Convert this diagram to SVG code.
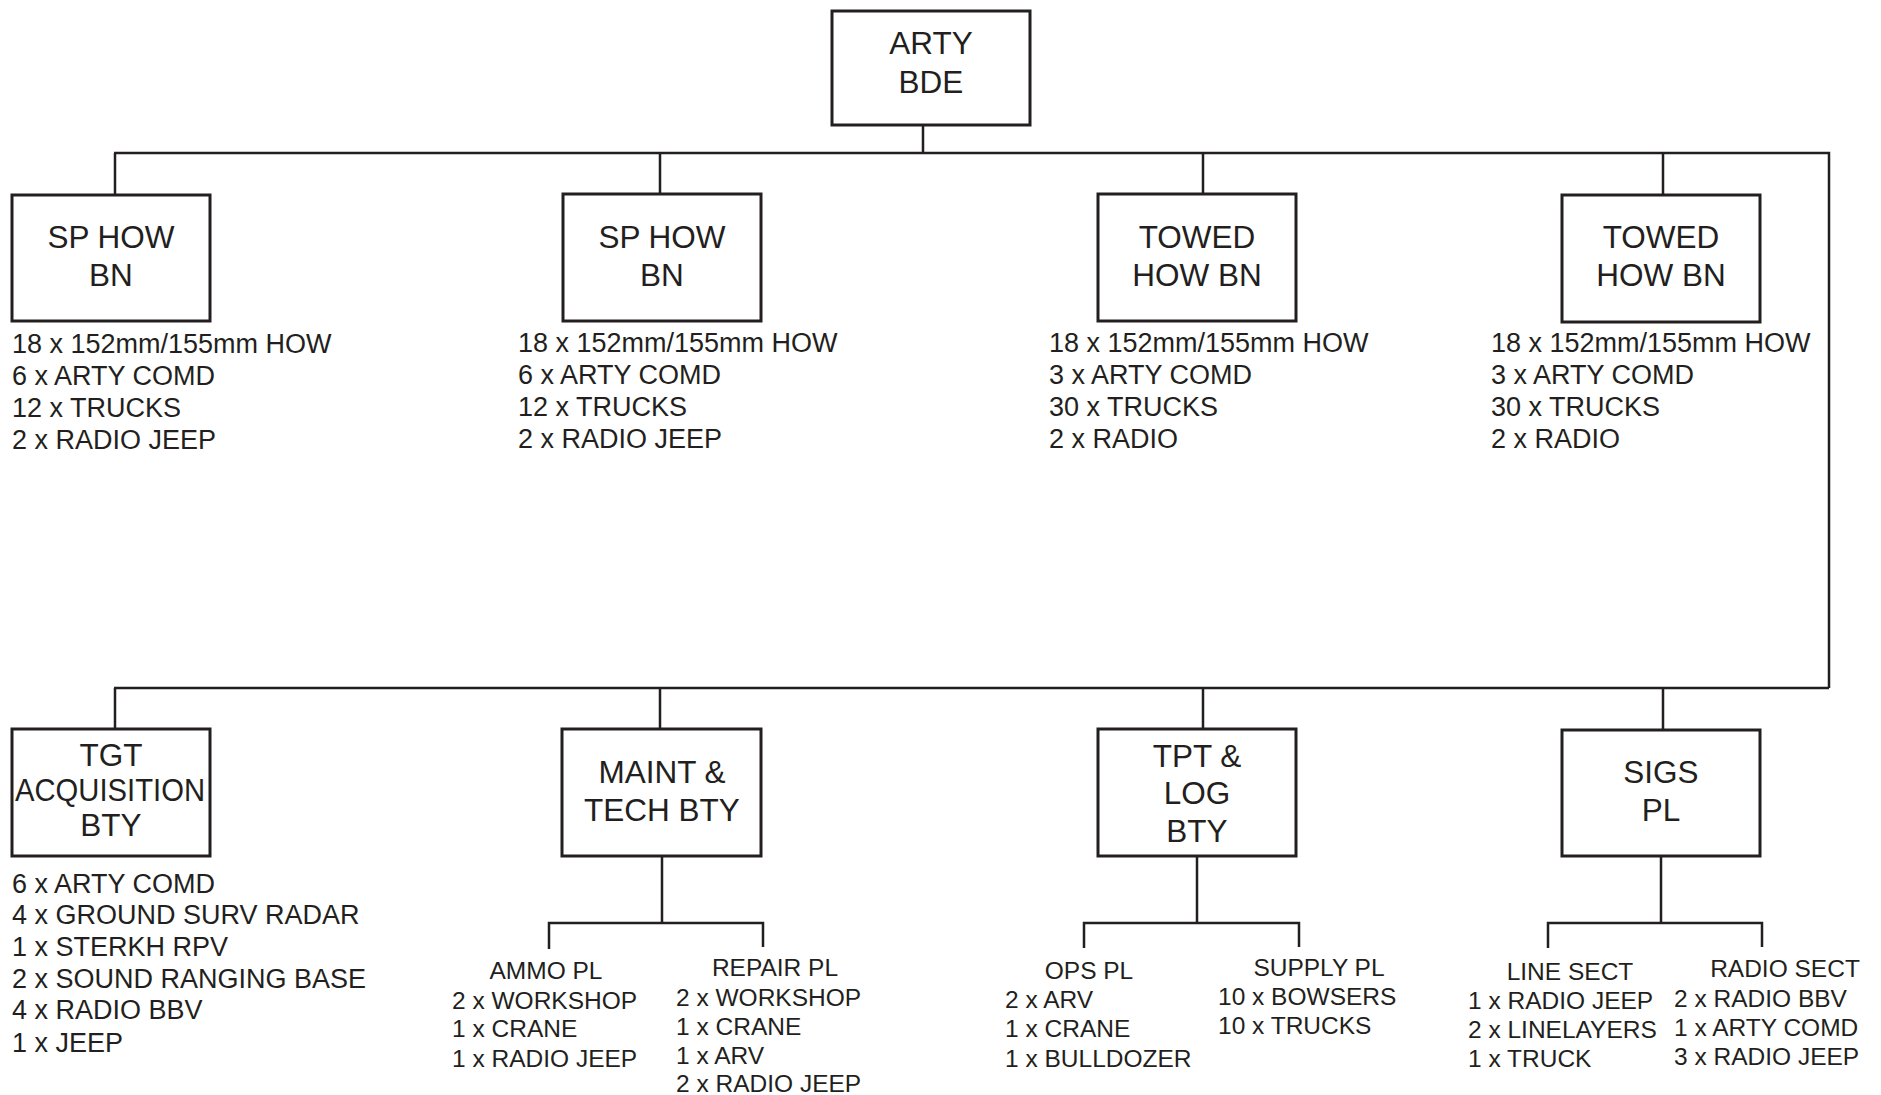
<svg xmlns="http://www.w3.org/2000/svg" width="1881" height="1095" viewBox="0 0 1881 1095">
<style>
.box{fill:#fff;stroke:#231f20;stroke-width:3}
.ln{fill:none;stroke:#231f20;stroke-width:2.5}
text{font-family:"Liberation Sans",Arial,sans-serif;fill:#231f20}
.bt{font-size:31.5px;text-anchor:middle}
.it{font-size:27px}
.sh{font-size:24.5px;text-anchor:middle}
.si{font-size:24.5px}
</style>
<rect width="1881" height="1095" fill="#fff"/>
<g id="connectors">
<path class="ln" d="M923 125V153M114 153H1829V688M114 688H1829M115 153V195M660 153V195M1203 153V195M1663 153V195M115 688V729M660 688V729M1203 688V729M1663 688V729"/>
<path class="ln" d="M662 856V923M549 949V923H763V947"/>
<path class="ln" d="M1197 856V923M1084 948V923H1299V947"/>
<path class="ln" d="M1661 856V923M1548 948V923H1762V947"/>
</g>
<g id="arty-bde">
<rect class="box" x="832" y="11" width="198" height="114"/>
<text class="bt" x="931" y="54">ARTY</text>
<text class="bt" x="931" y="93">BDE</text>
</g>
<g id="sp-how-bn-1">
<rect class="box" x="12" y="195" width="198" height="126"/>
<text class="bt" x="111" y="248">SP HOW</text>
<text class="bt" x="111" y="286">BN</text>
<text class="it" x="12" y="353">18 x 152mm/155mm HOW</text>
<text class="it" x="12" y="385">6 x ARTY COMD</text>
<text class="it" x="12" y="417">12 x TRUCKS</text>
<text class="it" x="12" y="449">2 x RADIO JEEP</text>
</g>
<g id="sp-how-bn-2">
<rect class="box" x="563" y="194" width="198" height="127"/>
<text class="bt" x="662" y="248">SP HOW</text>
<text class="bt" x="662" y="286">BN</text>
<text class="it" x="518" y="352">18 x 152mm/155mm HOW</text>
<text class="it" x="518" y="384">6 x ARTY COMD</text>
<text class="it" x="518" y="416">12 x TRUCKS</text>
<text class="it" x="518" y="448">2 x RADIO JEEP</text>
</g>
<g id="towed-how-bn-1">
<rect class="box" x="1098" y="194" width="198" height="127"/>
<text class="bt" x="1197" y="248">TOWED</text>
<text class="bt" x="1197" y="286">HOW BN</text>
<text class="it" x="1049" y="352">18 x 152mm/155mm HOW</text>
<text class="it" x="1049" y="384">3 x ARTY COMD</text>
<text class="it" x="1049" y="416">30 x TRUCKS</text>
<text class="it" x="1049" y="448">2 x RADIO</text>
</g>
<g id="towed-how-bn-2">
<rect class="box" x="1562" y="195" width="198" height="127"/>
<text class="bt" x="1661" y="248">TOWED</text>
<text class="bt" x="1661" y="286">HOW BN</text>
<text class="it" x="1491" y="352">18 x 152mm/155mm HOW</text>
<text class="it" x="1491" y="384">3 x ARTY COMD</text>
<text class="it" x="1491" y="416">30 x TRUCKS</text>
<text class="it" x="1491" y="448">2 x RADIO</text>
</g>
<g id="tgt-acq-bty">
<rect class="box" x="12" y="729" width="198" height="127"/>
<text class="bt" x="111" y="766">TGT</text>
<text class="bt" x="110" y="801" textLength="190" lengthAdjust="spacingAndGlyphs">ACQUISITION</text>
<text class="bt" x="111" y="836">BTY</text>
<text class="it" x="12" y="893">6 x ARTY COMD</text>
<text class="it" x="12" y="924">4 x GROUND SURV RADAR</text>
<text class="it" x="12" y="956">1 x STERKH RPV</text>
<text class="it" x="12" y="988">2 x SOUND RANGING BASE</text>
<text class="it" x="12" y="1019">4 x RADIO BBV</text>
<text class="it" x="12" y="1052">1 x JEEP</text>
</g>
<g id="maint-tech-bty">
<rect class="box" x="562" y="729" width="199" height="127"/>
<text class="bt" x="662" y="783">MAINT &amp;</text>
<text class="bt" x="662" y="821">TECH BTY</text>
</g>
<g id="ammo-pl">
<text class="sh" x="546" y="979">AMMO PL</text>
<text class="si" x="452" y="1009">2 x WORKSHOP</text>
<text class="si" x="452" y="1037">1 x CRANE</text>
<text class="si" x="452" y="1067">1 x RADIO JEEP</text>
</g>
<g id="repair-pl">
<text class="sh" x="775" y="976">REPAIR PL</text>
<text class="si" x="676" y="1006">2 x WORKSHOP</text>
<text class="si" x="676" y="1035">1 x CRANE</text>
<text class="si" x="676" y="1064">1 x ARV</text>
<text class="si" x="676" y="1092">2 x RADIO JEEP</text>
</g>
<g id="tpt-log-bty">
<rect class="box" x="1098" y="729" width="198" height="127"/>
<text class="bt" x="1197" y="767">TPT &amp;</text>
<text class="bt" x="1197" y="804">LOG</text>
<text class="bt" x="1197" y="842">BTY</text>
</g>
<g id="ops-pl">
<text class="sh" x="1089" y="979">OPS PL</text>
<text class="si" x="1005" y="1008">2 x ARV</text>
<text class="si" x="1005" y="1037">1 x CRANE</text>
<text class="si" x="1005" y="1067">1 x BULLDOZER</text>
</g>
<g id="supply-pl">
<text class="sh" x="1319" y="976">SUPPLY PL</text>
<text class="si" x="1218" y="1005">10 x BOWSERS</text>
<text class="si" x="1218" y="1034">10 x TRUCKS</text>
</g>
<g id="sigs-pl">
<rect class="box" x="1562" y="730" width="198" height="126"/>
<text class="bt" x="1661" y="783">SIGS</text>
<text class="bt" x="1661" y="821">PL</text>
</g>
<g id="line-sect">
<text class="sh" x="1570" y="980">LINE SECT</text>
<text class="si" x="1468" y="1009">1 x RADIO JEEP</text>
<text class="si" x="1468" y="1038">2 x LINELAYERS</text>
<text class="si" x="1468" y="1067">1 x TRUCK</text>
</g>
<g id="radio-sect">
<text class="sh" x="1785" y="977">RADIO SECT</text>
<text class="si" x="1674" y="1007">2 x RADIO BBV</text>
<text class="si" x="1674" y="1036">1 x ARTY COMD</text>
<text class="si" x="1674" y="1065">3 x RADIO JEEP</text>
</g>
</svg>
